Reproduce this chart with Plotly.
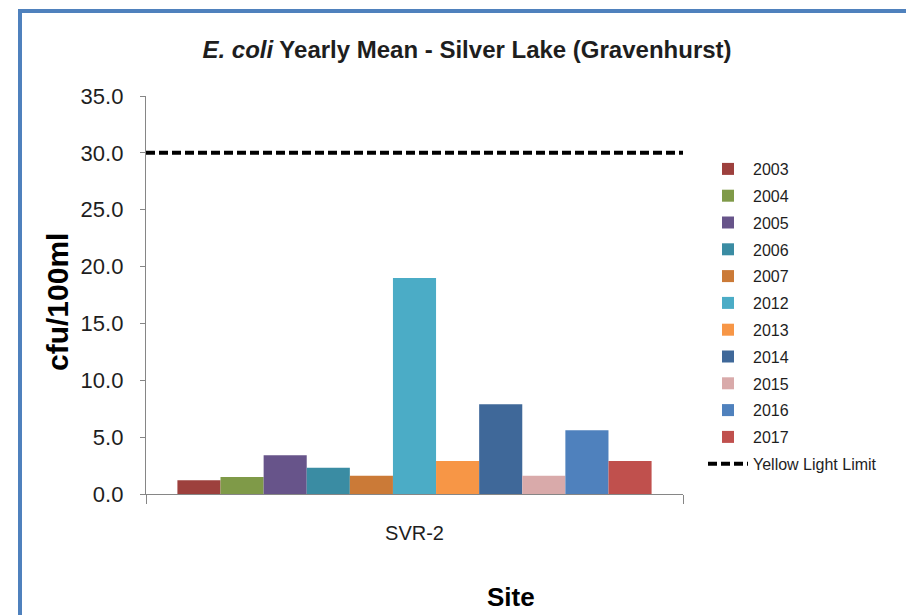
import plotly.graph_objects as go

# ---- data ----
site = ["SVR-2"]
years = ["2003", "2004", "2005", "2006", "2007", "2012", "2013", "2014", "2015", "2016", "2017"]
means = [1.2, 1.5, 3.4, 2.3, 1.6, 19.0, 2.9, 7.9, 1.6, 5.6, 2.9]
limit_name = "Yellow Light Limit"
limit_value = 30.0
y_ticks = [0, 5, 10, 15, 20, 25, 30, 35]

colors = ["#9D403D", "#7F9A48", "#67548A", "#3A8CA3", "#CB7A37", "#4BACC6",
          "#F79646", "#3F6899", "#D9AAAA", "#4F81BD", "#C0504D"]

# page body has an 8px margin; work in window pixels and convert
OFF = 8
W, H = 914 - OFF, 615 - OFF
PL, PR, PT, PB = 146, 683, 96, 494  # plot area in window px
L, R, T, B = PL - OFF, (W + OFF) - PR, PT - OFF, (H + OFF) - PB
pw, ph = PR - PL, PB - PT


def px_x(x):
    return (x - PL) / pw


def px_y(y):
    return (PB - y) / ph


FONT = "Liberation Sans, Arial, sans-serif"
TXT = "#1e1e1e"
AX = "#868686"

fig = go.Figure()
for yr, v, c in zip(years, means, colors):
    fig.add_trace(go.Bar(x=site, y=[v], name=yr, legendgroup=yr,
                         marker=dict(color=c, line=dict(width=0))))

fig.add_trace(go.Scatter(x=[0, 1], y=[limit_value, limit_value], xaxis="x2", mode="lines",
                         name=limit_name, legendgroup="limit",
                         line=dict(color="black", width=4, dash="9px,4px")))

fig.update_layout(
    width=W, height=H,
    margin=dict(l=L, r=R, t=T, b=B, pad=0),
    paper_bgcolor="white", plot_bgcolor="white",
    barmode="group", bargap=0.117, bargroupgap=0,
    title=dict(text="<b><i>E. coli</i> Yearly Mean - Silver Lake (Gravenhurst)</b>",
               x=(467 - OFF) / W, xanchor="center", xref="container",
               y=1 - (50 - OFF) / H, yanchor="middle",
               font=dict(family="Liberation Sans Narrow, Arial Narrow, sans-serif", size=24, color=TXT)),
    xaxis=dict(type="category", showline=True, linecolor=AX, linewidth=1.3,
               ticks="outside", tickson="boundaries", ticklen=9, tickcolor=AX, tickwidth=1.3,
               tickfont=dict(family=FONT, size=20, color=TXT), ticklabelstandoff=21,
               showgrid=False, zeroline=False, fixedrange=True),
    xaxis2=dict(range=[0, 1], overlaying="x", visible=False, fixedrange=True),
    yaxis=dict(range=[0, 35], tickvals=y_ticks, tickformat=".1f",
               showline=True, linecolor=AX, linewidth=1.3,
               ticks="outside", ticklen=5, tickcolor=AX, tickwidth=1.3,
               tickfont=dict(family=FONT, size=22, color=TXT), ticklabelstandoff=12,
               showgrid=False, zeroline=False, fixedrange=True),
    legend=dict(x=px_x(703), xanchor="left", y=px_y(152), yanchor="top",
                font=dict(family=FONT, size=16, color=TXT), tracegroupgap=3,
                bgcolor="rgba(0,0,0,0)", itemwidth=40, traceorder="grouped"),
    showlegend=True,
)

# chart frame
fig.add_shape(type="rect", xref="paper", yref="paper",
              x0=px_x(20), x1=px_x(910), y0=px_y(640), y1=px_y(11),
              line=dict(color="#4F81BD", width=4), fillcolor="rgba(0,0,0,0)", layer="below")

fig.add_annotation(text="<b>cfu/100ml</b>", xref="paper", yref="paper",
                   x=px_x(57), y=px_y(302), xanchor="center", yanchor="middle",
                   textangle=-90, showarrow=False,
                   font=dict(family=FONT, size=30, color="black"))
fig.add_annotation(text="<b>Site</b>", xref="paper", yref="paper",
                   x=px_x(511), y=px_y(597), xanchor="center", yanchor="middle",
                   showarrow=False,
                   font=dict(family=FONT, size=26, color="black"))

fig.write_html("out.html")
